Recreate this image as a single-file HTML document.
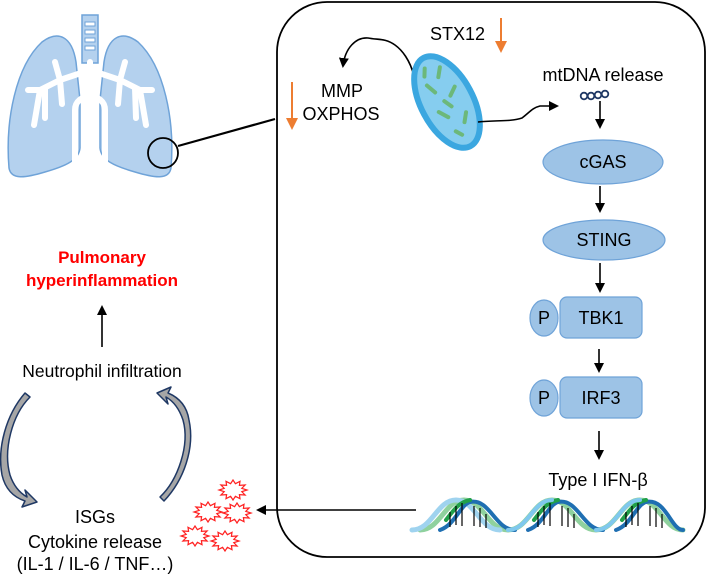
<!DOCTYPE html>
<html><head><meta charset="utf-8"><style>
html,body{margin:0;padding:0;background:#fff;}
svg{display:block;font-family:"Liberation Sans",Arial,sans-serif;}
</style></head><body>
<svg width="708" height="575" viewBox="0 0 708 575" xmlns="http://www.w3.org/2000/svg">
<defs>
<marker id="ah" markerWidth="10" markerHeight="10" refX="8" refY="5" orient="auto" markerUnits="userSpaceOnUse">
<path d="M0,0 L10,5 L0,10 Z" fill="#000"/></marker>
<marker id="ao" markerWidth="12" markerHeight="12" refX="9" refY="6" orient="auto" markerUnits="userSpaceOnUse">
<path d="M0,0 L12,6 L0,12 Z" fill="#ed7d31"/></marker>
<g id="star"><polygon points="14,0 8.8,1.7 12.1,5 6.4,4.6 7,8.7 2.4,6.3 0,10 -2.4,6.3 -7,8.7 -6.4,4.6 -12.1,5 -8.8,1.7 -14,0 -8.8,-1.7 -12.1,-5 -6.4,-4.6 -7,-8.7 -2.4,-6.3 0,-10 2.4,-6.3 7,-8.7 6.4,-4.6 12.1,-5 8.8,-1.7" fill="#fff" stroke="#ff2020" stroke-width="1.2"/></g>
</defs>

<!-- Lungs -->
<g fill="#b4d1ee" stroke="#6fa3d8" stroke-width="1.5">
<path d="M76,62 C72,36 58,30 42,42 C16,66 5,120 9,168 C11,180 25,178 45,172 C66,166 79,160 80,148 L80,100 Z"/>
<path d="M104,62 C108,36 122,30 138,42 C164,66 175,120 171,168 C169,180 155,178 135,172 C114,166 101,160 100,148 L100,100 Z"/>
<rect x="82" y="15" width="16" height="48"/>
</g>
<g fill="#fff" stroke="#6fa3d8" stroke-width="1">
<rect x="85" y="22" width="10" height="4"/><rect x="85" y="30" width="10" height="4"/><rect x="85" y="38" width="10" height="4"/><rect x="85" y="46" width="10" height="4"/>
</g>
<g fill="none" stroke="#fff" stroke-width="6" stroke-linecap="round" stroke-linejoin="round">
<path d="M90,62 L90,70 L60,80 L55,62 M60,80 L62,104 M60,80 L40,90 L28,90 M40,90 L34,125 M45,88 L45,118"/>
<path d="M90,70 L120,80 L125,62 M120,80 L118,104 M120,80 L140,90 L152,90 M140,90 L146,125 M135,88 L136,118"/>
<path d="M75,170 L75,110 C75,92 105,92 105,110 L105,170"/>
</g>
<circle cx="163" cy="153" r="15" fill="none" stroke="#000" stroke-width="1.8"/>
<line x1="178" y1="146" x2="275" y2="119" stroke="#000" stroke-width="2.2"/>

<!-- Cell box -->
<rect x="277" y="2" width="428" height="555" rx="50" ry="50" fill="none" stroke="#000" stroke-width="1.8"/>

<!-- STX12 & mito -->
<text x="430" y="40" font-size="18">STX12</text>
<line x1="501" y1="18" x2="501" y2="50" stroke="#ed7d31" stroke-width="2" marker-end="url(#ao)"/>
<text x="342" y="97" font-size="18" text-anchor="middle">MMP</text>
<text x="341" y="120" font-size="18" text-anchor="middle">OXPHOS</text>
<line x1="292" y1="82" x2="292" y2="127" stroke="#ed7d31" stroke-width="2" marker-end="url(#ao)"/>
<path d="M414,76 C410,60 402,50 395,45 C385,38 378,40 368,38 C356,37 345,48 343,66" fill="none" stroke="#000" stroke-width="1.6" marker-end="url(#ah)"/>
<g transform="translate(447,102) rotate(62)">
<ellipse cx="0" cy="0" rx="50" ry="26" fill="#86cdef" stroke="#3ba7e0" stroke-width="6"/>
<g fill="none" stroke="#6cb87a" stroke-width="4" stroke-linecap="round">
<path d="M-34,-10 L-26,-4"/><path d="M-24,10 L-14,6"/><path d="M-10,-14 L-4,-6"/><path d="M5,12 L14,6"/><path d="M18,-12 L26,-6"/><path d="M-40,4 L-33,8"/><path d="M-2,2 L6,-2"/><path d="M30,6 L36,2"/>
</g></g>
<path d="M478,122 C495,120 510,122 522,118 C530,112 532,108 540,106 L557,106" fill="none" stroke="#000" stroke-width="1.6" marker-end="url(#ah)"/>

<!-- pathway -->
<text x="603" y="81" font-size="18" text-anchor="middle">mtDNA release</text>
<g fill="none" stroke="#1f3864" stroke-width="1.8">
<circle cx="584" cy="96" r="3.3"/><circle cx="591" cy="96" r="3.3"/><circle cx="598" cy="95" r="3.3"/><circle cx="605" cy="94" r="3.3"/></g>
<g stroke="#000" stroke-width="1.6" marker-end="url(#ah)">
<line x1="600" y1="101" x2="600" y2="127"/>
<line x1="600" y1="186" x2="600" y2="211"/>
<line x1="600" y1="263" x2="600" y2="291"/>
<line x1="599" y1="349" x2="599" y2="371"/>
<line x1="599" y1="431" x2="599" y2="458"/>
</g>
<g fill="#9dc3e6" stroke="#6fa3d8" stroke-width="1.2">
<ellipse cx="603" cy="162" rx="60" ry="22"/>
<ellipse cx="604" cy="240" rx="61" ry="20"/>
<ellipse cx="544" cy="318" rx="14" ry="18"/>
<rect x="560" y="297" width="82" height="41" rx="7"/>
<ellipse cx="544" cy="398" rx="14" ry="18"/>
<rect x="560" y="377" width="82" height="41" rx="7"/>
</g>
<g font-size="18" text-anchor="middle">
<text x="603" y="168">cGAS</text>
<text x="604" y="246">STING</text>
<text x="544" y="324">P</text><text x="601" y="324">TBK1</text>
<text x="544" y="404">P</text><text x="601" y="404">IRF3</text>
<text x="598" y="486">Type I IFN-β</text>
</g>

<!-- DNA -->
<g fill="none" stroke-width="5" stroke-linecap="round">
<path d="M420,530 C440,530 445,500 464,500 C483,500 488,530 508,530 C528,530 533,500 552,500 C571,500 576,530 596,530 C616,530 621,500 640,500 C659,500 664,530 683,530" stroke="#8fd19e"/>
<path d="M420,530 C440,530 445,500 464,500 C483,500 488,530 508,530" stroke="#9fd3ef" transform="translate(-8,0)"/>
<path d="M440,530 C455,525 460,505 470,502 C490,498 495,530 515,530 M528,530 C543,525 548,505 558,502 C578,498 583,530 603,530 M616,530 C631,525 636,505 646,502 C666,498 671,530 683,530" stroke="#1f6fb2" stroke-width="4"/>
<path d="M446,520 C455,508 460,502 470,500 M534,520 C543,508 548,502 558,500 M622,520 C631,508 636,502 646,500" stroke="#21a04a" stroke-width="4"/>
<path d="M508,530 C528,530 533,500 552,500 M596,530 C616,530 621,500 640,500" stroke="#7fc8ee" stroke-width="4"/>
</g>
<g stroke="#000" stroke-width="1.2">
<path d="M450,527V512 M456,525V506 M462,526V503 M474,526V506 M480,527V508 M486,528V514 M538,527V512 M544,525V506 M550,526V503 M562,526V506 M568,527V508 M574,528V514 M626,527V512 M632,525V506 M638,526V503 M650,526V506 M656,527V508 M662,528V514"/>
</g>
<line x1="416" y1="510" x2="258" y2="510" stroke="#000" stroke-width="1.6" marker-end="url(#ah)"/>

<!-- stars -->
<use href="#star" x="233" y="490"/><use href="#star" x="208" y="512"/><use href="#star" x="237" y="513"/><use href="#star" x="195" y="536"/><use href="#star" x="225" y="541"/>

<!-- left texts -->
<text x="102" y="263" font-size="17" font-weight="bold" fill="#ff0000" text-anchor="middle">Pulmonary</text>
<text x="102" y="286" font-size="17" font-weight="bold" fill="#ff0000" text-anchor="middle">hyperinflammation</text>
<line x1="102" y1="347" x2="102" y2="307" stroke="#000" stroke-width="1.6" marker-end="url(#ah)"/>
<text x="102" y="377" font-size="17.5" text-anchor="middle">Neutrophil infiltration</text>
<g font-size="18" text-anchor="middle">
<text x="95" y="523">ISGs</text>
<text x="95" y="548">Cytokine release</text>
<text x="95" y="570">(IL-1 / IL-6 / TNF…)</text>
</g>

<!-- curved arrows -->
<g fill="#a6a6a6" stroke="#1f3864" stroke-width="1.5" stroke-linejoin="round">
<path d="M30,397 C12,415 3,450 10,475 C14,487 20,493 27,497 L25,490 L37,502 L22,507 L25,501 C13,497 5,488 2,475 C-3,448 6,415 25,393 Z"/>
<path d="M160,497 C178,480 190,445 183,420 C179,408 173,401 166,397 L168,404 L157,393 L171,387 L168,393 C180,398 187,407 189,420 C195,448 184,480 164,501 Z"/>
</g>
</svg>
</body></html>
